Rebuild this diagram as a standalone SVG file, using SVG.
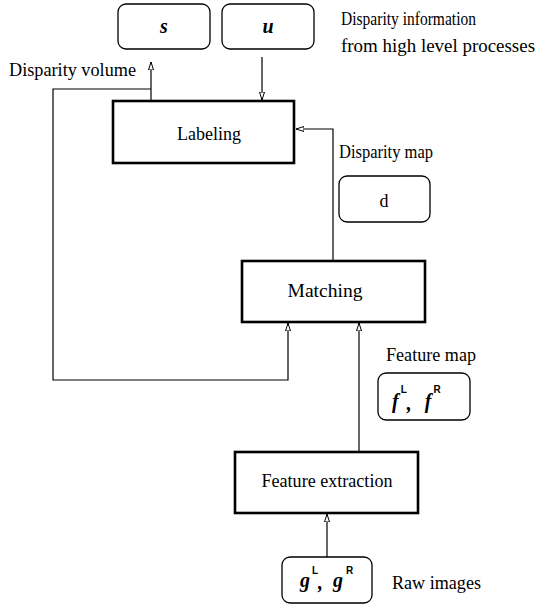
<svg xmlns="http://www.w3.org/2000/svg" width="535" height="605" viewBox="0 0 535 605">
<defs>
<style>
.t{font-family:"Liberation Serif","Times New Roman",serif;font-size:18px;fill:#000}
.c{text-anchor:middle}
.m{font-family:"Liberation Serif","Times New Roman",serif;font-style:italic;font-weight:bold;font-size:20px;fill:#000}
.sup{font-family:"Liberation Sans",Arial,sans-serif;font-style:normal;font-weight:bold;font-size:10px}
.data{fill:#fff;stroke:#000;stroke-width:1.3}
.proc{fill:#fff;stroke:#000;stroke-width:2.6}
.conn{fill:none;stroke:#000;stroke-width:1.2}
</style>
<marker id="ah" markerWidth="10" markerHeight="8" refX="8" refY="3" orient="auto" markerUnits="userSpaceOnUse">
<path d="M0,0.5 L8,3 L0,5.5 z" fill="#fff" stroke="#000" stroke-width="1"/>
</marker>
</defs>
<rect width="535" height="605" fill="#fff"/>
<g id="connectors">
<polyline class="conn" points="151,101 151,62" marker-end="url(#ah)"/>
<polyline class="conn" points="262,57 262,100" marker-end="url(#ah)"/>
<polyline class="conn" points="151,89 53,89 53,380 288,380 288,323" marker-end="url(#ah)"/>
<polyline class="conn" points="333,261 333,129 296,129" marker-end="url(#ah)"/>
<polyline class="conn" points="359,452 359,323" marker-end="url(#ah)"/>
<polyline class="conn" points="327,557 327,514" marker-end="url(#ah)"/>
</g>
<g id="node-s">
<rect class="data" x="118" y="4" width="92" height="45" rx="8"/>
<text class="m c" x="164" y="33">s</text>
</g>
<g id="node-u">
<rect class="data" x="222" y="4" width="92" height="45" rx="8"/>
<text class="m c" x="268" y="33">u</text>
</g>
<g id="label-info">
<text class="t" x="341" y="25" textLength="135" lengthAdjust="spacingAndGlyphs">Disparity information</text>
<text class="t" x="341" y="52" textLength="194" lengthAdjust="spacingAndGlyphs">from high level processes</text>
</g>
<g id="label-volume">
<text class="t" x="9" y="76" textLength="127" lengthAdjust="spacingAndGlyphs">Disparity volume</text>
</g>
<g id="node-labeling">
<rect class="proc" x="113" y="101" width="181" height="62"/>
<text class="t c" x="209" y="140" textLength="64" lengthAdjust="spacingAndGlyphs">Labeling</text>
</g>
<g id="label-dmap">
<text class="t" x="339" y="158" textLength="94" lengthAdjust="spacingAndGlyphs">Disparity map</text>
</g>
<g id="node-d">
<rect class="data" x="339" y="176" width="91" height="46" rx="8"/>
<text class="t c" x="384" y="207">d</text>
</g>
<g id="node-matching">
<rect class="proc" x="242" y="261" width="183" height="61"/>
<text class="t c" x="325" y="297" textLength="75" lengthAdjust="spacingAndGlyphs">Matching</text>
</g>
<g id="label-fmap">
<text class="t" x="386" y="361" textLength="90" lengthAdjust="spacingAndGlyphs">Feature map</text>
</g>
<g id="node-f">
<rect class="data" x="378" y="373" width="92" height="47" rx="8"/>
<text class="m" x="392" y="408">f<tspan class="sup" dx="2" dy="-15">L</tspan><tspan dy="17">,</tspan><tspan dx="13" dy="-2">f</tspan><tspan class="sup" dx="2" dy="-15">R</tspan></text>
</g>
<g id="node-feature">
<rect class="proc" x="235" y="452" width="183" height="61"/>
<text class="t c" x="327" y="487" textLength="131" lengthAdjust="spacingAndGlyphs">Feature extraction</text>
</g>
<g id="node-g">
<rect class="data" x="282" y="557" width="90" height="46" rx="8"/>
<text class="m" x="300" y="587">g<tspan class="sup" dx="2" dy="-13">L</tspan><tspan dy="15">,</tspan><tspan dx="10" dy="-2">g</tspan><tspan class="sup" dx="3" dy="-13">R</tspan></text>
</g>
<g id="label-raw">
<text class="t" x="392" y="589" textLength="89" lengthAdjust="spacingAndGlyphs">Raw images</text>
</g>
</svg>
